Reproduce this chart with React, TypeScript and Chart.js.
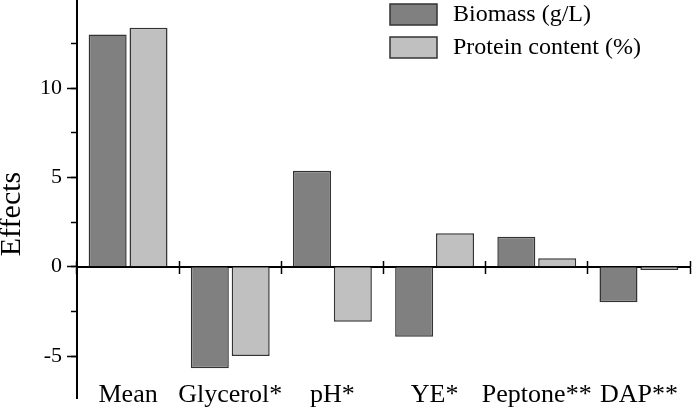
import React, { useEffect, useRef } from "react";
import { Chart, registerables } from "chart.js";

Chart.register(...registerables);

const categories = ["Mean", "Glycerol*", "pH*", "YE*", "Peptone**", "DAP**"];
const biomass = [13.0, -5.69, 5.37, -3.92, 1.68, -1.99];
const protein = [13.37, -5.0, -3.08, 1.87, 0.47, -0.18];
const seriesNames = ["Biomass (g/L)", "Protein content (%)"];
const yMin = -7.35;
const yMax = 14.93;

const FONT = "'Liberation Serif', 'Times New Roman', serif";

const legendPlugin = {
  id: "boxLegend",
  afterDraw(chart: any) {
    const { ctx, chartArea } = chart;
    const x0 = chartArea.right - 300;
    ctx.save();
    chart.data.datasets.forEach((ds: any, i: number) => {
      const y0 = 4 + i * 33;
      ctx.fillStyle = ds.backgroundColor;
      ctx.fillRect(x0, y0, 47, 21);
      ctx.strokeStyle = "#333333";
      ctx.lineWidth = 1.5;
      ctx.strokeRect(x0, y0, 47, 21);
      ctx.fillStyle = "#000";
      ctx.font = `24px ${FONT}`;
      ctx.textBaseline = "middle";
      ctx.textAlign = "left";
      ctx.fillText(ds.label, x0 + 63, y0 + 11);
    });
    ctx.restore();
  },
};

const noPad = (s: any) => {
  s.paddingTop = 0;
  s.paddingBottom = 0;
  s.paddingLeft = 0;
  s.paddingRight = 0;
};

export default function App() {
  const ref = useRef<HTMLCanvasElement>(null);
  useEffect(() => {
    if (!ref.current) return;
    const tickGrid = {
      display: true,
      drawOnChartArea: false,
      drawTicks: true,
      tickLength: 6,
      tickWidth: 1.5,
      tickColor: "#000",
      offset: true,
    };
    const chart = new Chart(ref.current, {
      type: "bar",
      data: {
        labels: categories,
        datasets: [
          {
            label: seriesNames[0],
            data: biomass,
            backgroundColor: "#808080",
            borderColor: "#333333",
            borderWidth: 1.5,
            categoryPercentage: 0.8,
            barPercentage: 0.93,
          },
          {
            label: seriesNames[1],
            data: protein,
            backgroundColor: "#c0c0c0",
            borderColor: "#333333",
            borderWidth: 1.5,
            categoryPercentage: 0.8,
            barPercentage: 0.93,
          },
        ],
      },
      options: {
        animation: false,
        responsive: true,
        maintainAspectRatio: false,
        layout: { padding: { left: 0, right: 2, top: 0, bottom: 11 } },
        plugins: { legend: { display: false }, tooltip: { enabled: false } },
        scales: {
          x: {
            type: "category",
            position: { y: yMin },
            offset: true,
            grid: { display: false, drawTicks: false, offset: true },
            border: { display: false },
            ticks: {
              padding: -18,
              color: "#000",
              font: { family: FONT, size: 26 },
              maxRotation: 0,
              autoSkip: false,
            },
            afterFit: noPad,
          },
          xZero: {
            type: "category",
            axis: "x",
            position: { y: 0 },
            offset: true,
            z: 1,
            grid: tickGrid,
            border: { display: true, color: "#000", width: 2 },
            ticks: { display: false },
            afterFit: noPad,
          },
          xUp: {
            type: "category",
            axis: "x",
            position: { y: 0.34 },
            offset: true,
            z: 1,
            grid: tickGrid,
            border: { display: false },
            ticks: { display: false },
            afterFit: noPad,
          },
          y: {
            type: "linear",
            position: "left",
            weight: 1,
            min: yMin,
            max: yMax,
            grid: {
              display: true,
              drawOnChartArea: false,
              drawTicks: true,
              tickLength: 10,
              tickWidth: 1.5,
              tickColor: "#000",
            },
            border: { display: true, color: "#000", width: 2 },
            ticks: {
              stepSize: 5,
              includeBounds: false,
              padding: 5,
              color: "#000",
              font: { family: FONT, size: 22 },
              callback: (v: any) => String(v),
            },
            title: {
              display: true,
              text: "Effects    ",
              color: "#000",
              font: { family: FONT, size: 30 },
              padding: { top: -6, bottom: 0 },
            },
            afterFit: (s: any) => {
              s.width = 77;
              noPad(s);
            },
          },
          yMinor: {
            type: "linear",
            axis: "y",
            position: "left",
            weight: 0,
            min: yMin,
            max: yMax,
            grid: {
              display: true,
              drawOnChartArea: false,
              drawTicks: true,
              tickLength: 6,
              tickWidth: 1.5,
              tickColor: "#000",
            },
            border: { display: false },
            ticks: { stepSize: 2.5, includeBounds: false, display: false },
            afterFit: (s: any) => {
              s.width = 0;
              noPad(s);
            },
          },
        },
      },
      plugins: [legendPlugin],
    } as any);
    return () => chart.destroy();
  }, []);
  return (
    <div style={{ position: "absolute", left: 0, top: 0, width: 692, height: 409 }}>
      <canvas ref={ref} />
    </div>
  );
}
